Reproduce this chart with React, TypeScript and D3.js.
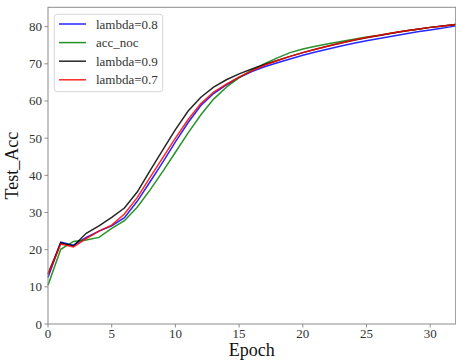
import * as d3 from 'd3';

const EPOCHS = d3.range(0, 33);

const LAMBDA_08 = [12.5, 22.0, 21.2, 23.3, 25.0, 26.4, 28.6, 33.0, 38.2, 43.5, 49.0, 54.2, 58.8, 62.0, 64.3, 66.3, 67.9, 69.2, 70.3, 71.3, 72.3, 73.2, 74.0, 74.8, 75.5, 76.2, 76.8, 77.4, 78.0, 78.6, 79.1, 79.6, 80.2];
const ACC_NOC = [10.4, 20.1, 22.2, 22.6, 23.3, 25.7, 27.8, 31.4, 36.0, 41.0, 46.2, 51.4, 56.3, 60.5, 63.7, 66.3, 68.3, 70.0, 71.6, 73.0, 74.0, 74.7, 75.4, 76.0, 76.6, 77.2, 77.7, 78.3, 78.8, 79.3, 79.8, 80.2, 80.6];
const LAMBDA_09 = [13.5, 21.8, 21.0, 24.4, 26.4, 28.7, 31.2, 35.5, 41.2, 46.8, 52.3, 57.3, 61.0, 63.7, 65.7, 67.3, 68.6, 69.8, 70.9, 72.0, 73.0, 73.9, 74.8, 75.6, 76.3, 77.0, 77.6, 78.2, 78.8, 79.3, 79.8, 80.2, 80.6];
const LAMBDA_07 = [13.2, 21.5, 20.7, 23.0, 25.0, 26.6, 29.6, 34.0, 39.4, 44.7, 50.0, 55.0, 59.3, 62.4, 64.5, 66.5, 68.1, 69.6, 70.9, 72.0, 73.0, 73.9, 74.8, 75.6, 76.4, 77.1, 77.7, 78.3, 78.8, 79.3, 79.8, 80.2, 80.6];

const SERIES_NAMES = ['lambda=0.8', 'acc_noc', 'lambda=0.9', 'lambda=0.7'];
const SERIES_VALUES = [LAMBDA_08, ACC_NOC, LAMBDA_09, LAMBDA_07];
const SERIES_COLORS = ['#0000ff', '#008000', '#000000', '#ff0000'];

const X_TICKS = [0, 5, 10, 15, 20, 25, 30];
const Y_TICKS = [0, 10, 20, 30, 40, 50, 60, 70, 80];

const FONT = '"Liberation Serif", "DejaVu Serif", serif';

export default function App() {
  const w = 456;
  const h = 360;
  const margin = { top: 7.3, right: 0.3, bottom: 36, left: 48 };
  const innerW = w - margin.left - margin.right;
  const innerH = h - margin.top - margin.bottom;

  const x = d3.scaleLinear().domain([0, 32]).range([0, innerW]);
  const y = d3.scaleLinear().domain([0, 85.2]).range([innerH, 0]);

  const line = d3.line<number>()
    .x((_, i) => x(EPOCHS[i]))
    .y(d => y(d));

  return (
    <svg width={w} height={h} style={{ position: 'absolute', left: 0, top: 0, background: '#fff' }}>
      <g transform={`translate(${margin.left},${margin.top})`}>
        {SERIES_VALUES.map((vals, i) => (
          <path key={SERIES_NAMES[i]} d={line(vals) ?? ''} fill="none" stroke={SERIES_COLORS[i]} strokeWidth={1.5} strokeOpacity={0.85} />
        ))}

        <rect x={0} y={0} width={innerW} height={innerH} fill="none" stroke="#8c8c8c" strokeWidth={1} />

        {X_TICKS.map(t => (
          <g key={t} transform={`translate(${x(t)},${innerH})`}>
            <line y1={0} y2={3.5} stroke="#8c8c8c" />
            <text y={14} textAnchor="middle" fontSize={13} fontFamily={FONT} fill="#333">{t}</text>
          </g>
        ))}
        {Y_TICKS.map(t => (
          <g key={t} transform={`translate(0,${y(t)})`}>
            <line x1={0} x2={-3.5} stroke="#8c8c8c" />
            <text x={-6} dominantBaseline="central" textAnchor="end" fontSize={13} fontFamily={FONT} fill="#333">{t}</text>
          </g>
        ))}

        <text x={innerW / 2} y={innerH + 32} textAnchor="middle" fontSize={18} fontFamily={FONT} fill="#111">Epoch</text>
        <text transform={`translate(${-30},${innerH / 2}) rotate(-90)`} textAnchor="middle" fontSize={18} fontFamily={FONT} fill="#111">Test_Acc</text>

        <g transform={`translate(${54.3 - margin.left},${14.3 - margin.top})`}>
          <rect x={0} y={0} width={108.4} height={77.4} rx={3} fill="#fff" fillOpacity={0.8} stroke="#d6d6d6" />
          {SERIES_NAMES.map((name, i) => (
            <g key={name} transform={`translate(0,${9.7 + i * 18.6})`}>
              <line x1={4.7} x2={31.7} stroke={SERIES_COLORS[i]} strokeWidth={1.5} strokeOpacity={0.85} />
              <text x={41.7} dominantBaseline="central" fontSize={13} fontFamily={FONT} fill="#333">{name}</text>
            </g>
          ))}
        </g>
      </g>
    </svg>
  );
}
